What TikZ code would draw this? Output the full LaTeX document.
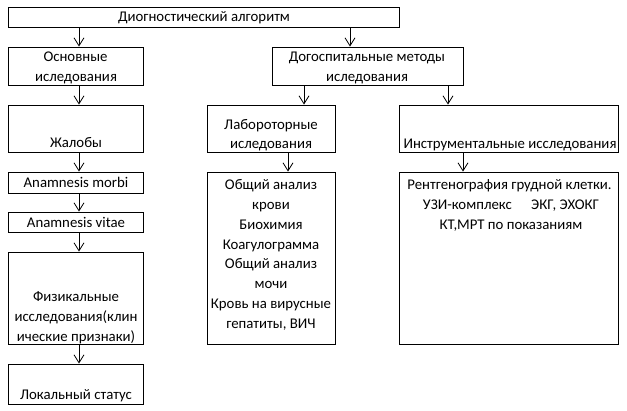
\documentclass[tikz,border=0pt]{standalone}
\usepackage{fontspec}
\setmainfont{Carlito}
\usetikzlibrary{arrows.meta}
\begin{document}
\begin{tikzpicture}[x=1pt,y=-1pt,
  box/.style={draw=black,line width=0.9pt,inner sep=0pt,fill=white},
  txt/.style={inner sep=0pt,anchor=base,font=\fontsize{14.8}{19.7}\selectfont},
  arr/.style={draw=black,line width=0.8pt,-{Straight Barb[length=8pt,width=10pt,line width=0.8pt]}}]
\useasboundingbox (0,0) rectangle (627,411);
% boxes
\node[box,minimum width=391,minimum height=20] (top) at (203.5,17) {};
\node[box,minimum width=135,minimum height=38] (osn) at (75.5,66) {};
\node[box,minimum width=191,minimum height=38] (dog) at (367.5,66) {};
\node[box,minimum width=135,minimum height=47] (zhal) at (75.5,128.5) {};
\node[box,minimum width=135,minimum height=21] (morbi) at (75.5,182.5) {};
\node[box,minimum width=135,minimum height=20] (vitae) at (75.5,222) {};
\node[box,minimum width=135,minimum height=92] (fiz) at (75.5,298) {};
\node[box,minimum width=135,minimum height=40] (lok) at (75.5,384) {};
\node[box,minimum width=128,minimum height=47] (lab) at (271,128.5) {};
\node[box,minimum width=219,minimum height=47] (instr) at (508.5,128.5) {};
\node[box,minimum width=128,minimum height=172] (lablist) at (271,258) {};
\node[box,minimum width=219,minimum height=172] (instrlist) at (508.5,258) {};
% texts
\node[txt] (ttop) at (204,22) {Диогностический алгоритм};
\node[txt] (tosn1) at (75.5,62) {Основные};
\node[txt] (tosn2) at (76,82) {иследования};
\node[txt] (tdog1) at (367,62) {Догоспитальные методы};
\node[txt] (tdog2) at (367,82) {иследования};
\node[txt] (tzhal) at (76,148) {Жалобы};
\node[txt] (tmorbi) at (76,188) {Anamnesis morbi};
\node[txt] (tvitae) at (76,228) {Anamnesis vitae};
\node[txt] (tfiz1) at (76,302) {Физикальные};
\node[txt] (tfiz2) at (76,322) {исследования(клин};
\node[txt] (tfiz3) at (76,342) {ические признаки)};
\node[txt] (tlok) at (76,400) {Локальный статус};
\node[txt] (tlab1) at (271,129.3) {Лабороторные};
\node[txt] (tlab2) at (271,148.3) {иследования};
\node[txt] (tinstr) at (510,148.3) {Инструментальные исследования};
\node[txt] (tl1) at (271,190) {Общий анализ};
\node[txt] (tl2) at (271,209.75) {крови};
\node[txt] (tl3) at (271,229.5) {Биохимия};
\node[txt] (tl4) at (271,249.25) {Коагулограмма};
\node[txt] (tl5) at (271,269) {Общий анализ};
\node[txt] (tl6) at (271,288.75) {мочи};
\node[txt] (tl7) at (271,308.5) {Кровь на вирусные};
\node[txt] (tl8) at (271,328.25) {гепатиты, ВИЧ};
\node[txt] (ti1) at (509.5,190) {Рентгенография грудной клетки.};
\node[txt] (ti2) at (511,209.75) {УЗИ-комплекс\hspace{16pt} ЭКГ, ЭХОКГ};
\node[txt] (ti3) at (511,229.5) {КТ,МРТ по показаниям};
% arrows
\draw[arr] (top.south -| 79,0) -- (osn.north -| 79,0);
\draw[arr] (top.south -| 350,0) -- (dog.north -| 350,0);
\draw[arr] (osn.south -| 79,0) -- (zhal.north -| 79,0);
\draw[arr] (zhal.south -| 79,0) -- (morbi.north -| 79,0);
\draw[arr] (morbi.south -| 79,0) -- (vitae.north -| 79,0);
\draw[arr] (vitae.south -| 79,0) -- (fiz.north -| 79,0);
\draw[arr] (fiz.south -| 79,0) -- (lok.north -| 79,0);
\draw[arr] (dog.south -| 304,0) -- (lab.north -| 304,0);
\draw[arr] (dog.south -| 448,0) -- (instr.north -| 448,0);
\draw[arr] (lab.south -| 288,0) -- (lablist.north -| 288,0);
\draw[arr] (instr.south -| 463,0) -- (instrlist.north -| 463,0);
\end{tikzpicture}
\end{document}
